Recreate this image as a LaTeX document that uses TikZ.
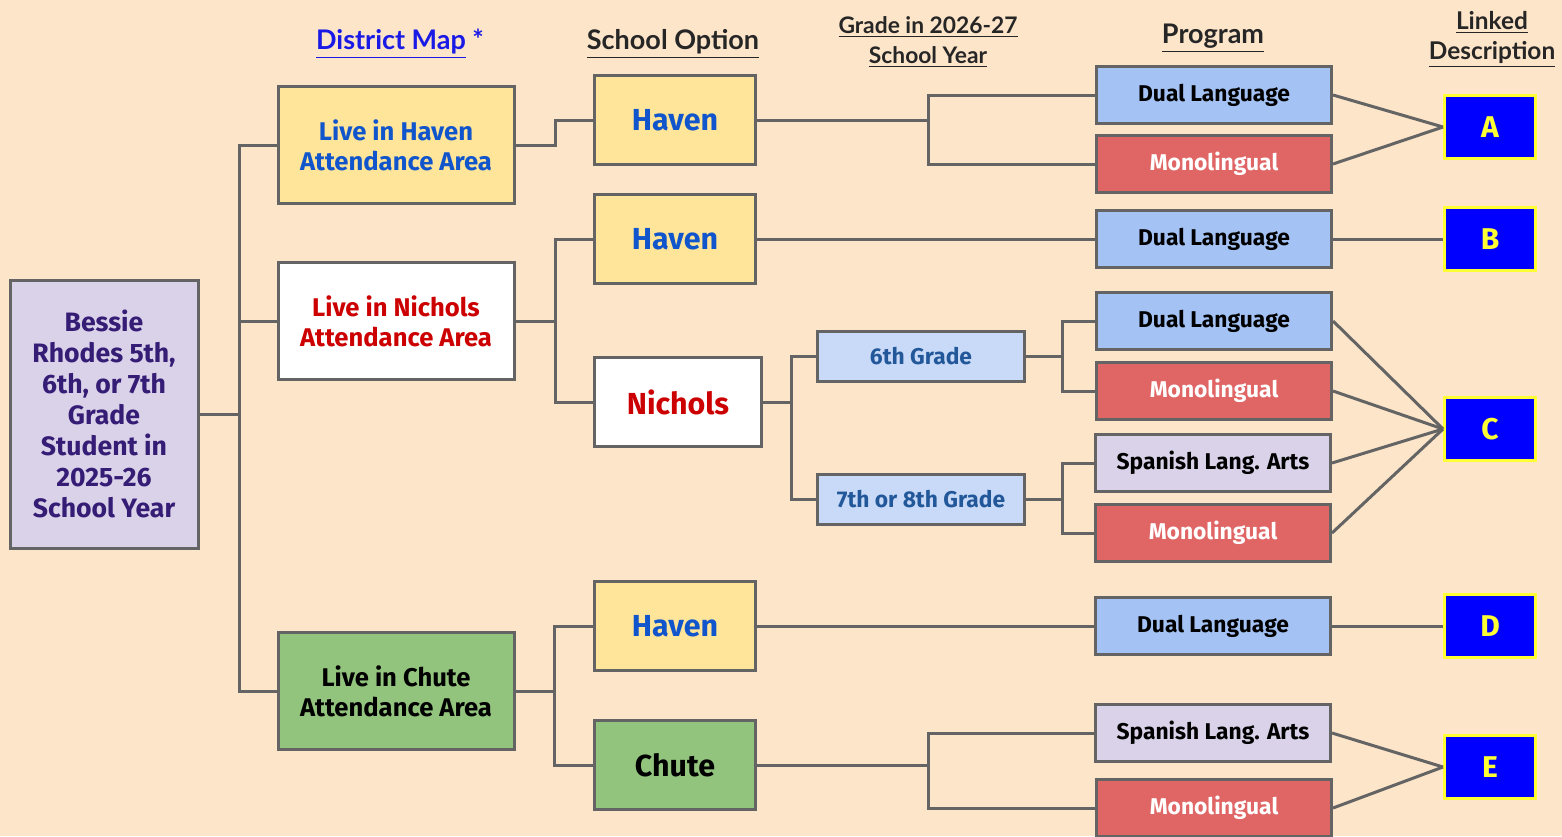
\documentclass[tikz,border=0pt]{standalone}
\usepackage{fontspec}
\setmainfont{Lato}
\newfontfamily\boxfont{Fira Sans}
\usepackage{xcolor}
\definecolor{peach}{HTML}{FDE5C9}
\definecolor{linegray}{HTML}{646464}
\definecolor{lavender}{HTML}{D9D2E9}
\definecolor{purpletext}{HTML}{351C75}
\definecolor{sand}{HTML}{FFE599}
\definecolor{havenblue}{HTML}{1155CC}
\definecolor{darkred}{HTML}{CC0000}
\definecolor{leaf}{HTML}{93C47D}
\definecolor{paleblue}{HTML}{C9DAF8}
\definecolor{gradeblue}{HTML}{22589A}
\definecolor{skyblue}{HTML}{A4C2F4}
\definecolor{salmon}{HTML}{E06666}
\definecolor{hyperblue}{HTML}{1A1AE6}
\definecolor{letterblue}{HTML}{0000FF}
\definecolor{letteryellow}{HTML}{FFFF33}
\tikzset{
  box/.style={draw=linegray, line width=1.5pt, align=center, inner sep=0pt,
    font=\boxfont\bfseries\fontsize{12.8}{15}\selectfont},
  student/.style={box, fill=lavender, text=purpletext, minimum width=94pt, minimum height=134pt,
    font=\boxfont\bfseries\fontsize{13.3}{15.5}\selectfont},
  area/.style={box, minimum width=118pt, minimum height=58.5pt},
  school/.style={box, minimum width=80.5pt, minimum height=44.5pt,
    font=\boxfont\bfseries\fontsize{15.2}{17}\selectfont},
  grade/.style={box, fill=paleblue, text=gradeblue, minimum width=103.5pt, minimum height=25pt,
    font=\boxfont\bfseries\fontsize{11.4}{13}\selectfont},
  program/.style={box, minimum width=117.5pt, minimum height=28.5pt,
    font=\boxfont\bfseries\fontsize{11.4}{13}\selectfont},
  dual/.style={program, fill=skyblue, text=black},
  mono/.style={program, fill=salmon, text=white},
  spanish/.style={program, fill=lavender, text=black},
  letter/.style={draw=letteryellow, line width=1.5pt, fill=letterblue, text=letteryellow,
    minimum width=45.5pt, minimum height=31.5pt, inner sep=0pt,
    font=\boxfont\bfseries\fontsize{15}{16}\selectfont},
  head/.style={align=center, text=black!85, font=\bfseries\fontsize{13.5}{15}\selectfont},
  conn/.style={draw=linegray, line width=1.5pt}
}
\begin{document}
\begin{tikzpicture}[x=0.5pt, y=-0.5pt]
  \fill[peach] (0,0) rectangle (1562,836);
  \useasboundingbox (0,0) rectangle (1562,836);

  % headings
  \node[head] (hmap) at (400,44) {\textcolor{hyperblue}{\underline{District Map}} \textcolor{hyperblue}{*}};
  \node[head] (hschool) at (673,44) {\underline{School Option}};
  \node[head, font=\bfseries\fontsize{11.4}{15}\selectfont] (hgrade) at (928,42) {\underline{Grade in 2026-27}\\\underline{School Year}};
  \node[head] (hprog) at (1213,38) {\underline{Program}};
  \node[head, font=\bfseries\fontsize{12.2}{15}\selectfont] (hdesc) at (1492,39) {\underline{Linked}\\\underline{Description}};

  % first columns
  \node[student] (bessie) at (104,414) {Bessie\\Rhodes 5th,\\6th, or 7th\\Grade\\Student in\\2025-26\\School Year};
  \node[area, fill=sand, text=havenblue] (livehaven) at (396,145) {Live in Haven\\Attendance Area};
  \node[area, fill=white, text=darkred] (livenichols) at (396,321) {Live in Nichols\\Attendance Area};
  \node[area, fill=leaf, text=black] (livechute) at (396,691) {Live in Chute\\Attendance Area};

  \node[school, fill=sand, text=havenblue] (haven1) at (675,120) {Haven};
  \node[school, fill=sand, text=havenblue] (haven2) at (675,239) {Haven};
  \node[school, fill=white, text=darkred, minimum width=83.5pt] (nichols) at (678,402) {Nichols};
  \node[school, fill=sand, text=havenblue] (haven3) at (675,626) {Haven};
  \node[school, fill=leaf, text=black] (chute) at (675,765) {Chute};

  \node[grade] (sixth) at (921,356) {6th Grade};
  \node[grade] (seventh) at (921,499) {7th or 8th Grade};

  % programs
  \node[dual] (dual1) at (1214,95) {Dual Language};
  \node[mono] (mono1) at (1214,164) {Monolingual};
  \node[dual] (dual2) at (1214,239) {Dual Language};
  \node[dual] (dual3) at (1214,321) {Dual Language};
  \node[mono] (mono3) at (1214,391) {Monolingual};
  \node[spanish] (span1) at (1213,463) {Spanish Lang. Arts};
  \node[mono] (mono4) at (1213,533) {Monolingual};
  \node[dual] (dual4) at (1213,626) {Dual Language};
  \node[spanish] (span2) at (1213,733) {Spanish Lang. Arts};
  \node[mono] (mono5) at (1214,808) {Monolingual};

  % descriptions
  \node[letter] (lettA) at (1490,127) {A};
  \node[letter] (lettB) at (1490,239) {B};
  \node[letter] (lettC) at (1490,429) {C};
  \node[letter] (lettD) at (1490,626) {D};
  \node[letter] (lettE) at (1490,767) {E};

  % tree connectors
  \draw[conn] (bessie.east) -- ++(40,0) coordinate (trunk);
  \draw[conn] (trunk) |- (livehaven.west);
  \draw[conn] (trunk) |- (livenichols.west);
  \draw[conn] (trunk) |- (livechute.west);

  \draw[conn] (livehaven.east) -- ++(40,0) |- (haven1.west);
  \draw[conn] (livenichols.east) -- ++(40,0) coordinate (forkn);
  \draw[conn] (forkn) |- (haven2.west);
  \draw[conn] (forkn) |- (nichols.west);
  \draw[conn] (livechute.east) -- ++(39,0) coordinate (forkc);
  \draw[conn] (forkc) |- (haven3.west);
  \draw[conn] (forkc) |- (chute.west);

  \draw[conn] (haven1.east) -- ++(171,0) coordinate (forkh);
  \draw[conn] (forkh) |- (dual1.west);
  \draw[conn] (forkh) |- (mono1.west);
  \draw[conn] (haven2.east) -- (dual2.west);
  \draw[conn] (nichols.east) -- ++(28,0) coordinate (forkg);
  \draw[conn] (forkg) |- (sixth.west);
  \draw[conn] (forkg) |- (seventh.west);
  \draw[conn] (sixth.east) -- ++(36,0) coordinate (forks);
  \draw[conn] (forks) |- (dual3.west);
  \draw[conn] (forks) |- (mono3.west);
  \draw[conn] (seventh.east) -- ++(36,0) coordinate (forke);
  \draw[conn] (forke) |- (span1.west);
  \draw[conn] (forke) |- (mono4.west);
  \draw[conn] (haven3.east) -- (dual4.west);
  \draw[conn] (chute.east) -- ++(171,0) coordinate (forkt);
  \draw[conn] (forkt) |- (span2.west);
  \draw[conn] (forkt) |- (mono5.west);

  % program to description
  \draw[conn] (dual1.east) -- (lettA.west);
  \draw[conn] (mono1.east) -- (lettA.west);
  \draw[conn] (dual2.east) -- (lettB.west);
  \draw[conn] (dual3.east) -- (lettC.west);
  \draw[conn] (mono3.east) -- (lettC.west);
  \draw[conn] (span1.east) -- (lettC.west);
  \draw[conn] (mono4.east) -- (lettC.west);
  \draw[conn] (dual4.east) -- (lettD.west);
  \draw[conn] (span2.east) -- (lettE.west);
  \draw[conn] (mono5.east) -- (lettE.west);
\end{tikzpicture}
\end{document}
